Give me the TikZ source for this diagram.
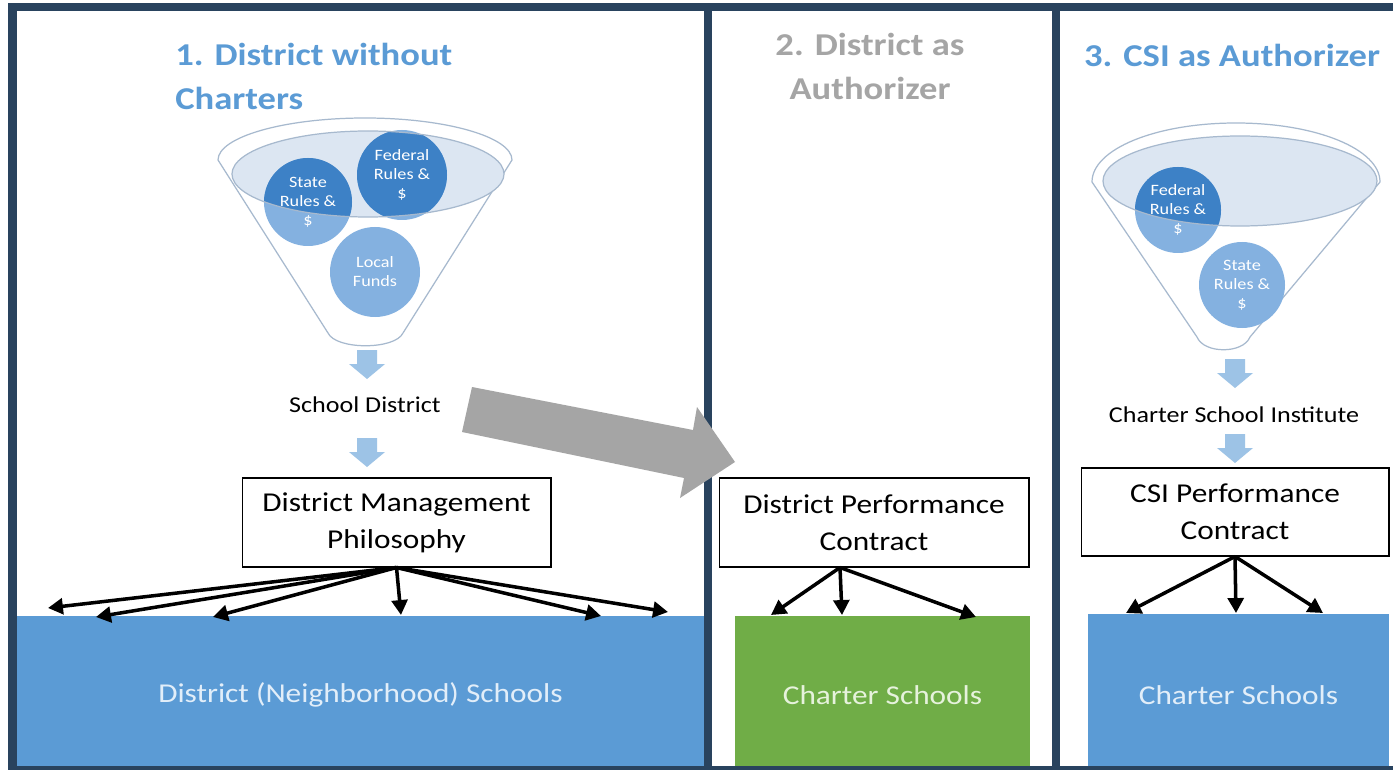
\documentclass[tikz,border=0pt]{standalone}
\usepackage{fontspec}
\setmainfont[FakeStretch=1.15]{Carlito}
\usepackage{tikz}
\usetikzlibrary{arrows.meta}

\definecolor{framenavy}{HTML}{29435E}
\definecolor{headblue}{HTML}{5B9BD5}
\definecolor{headgray}{HTML}{A5A5A5}
\definecolor{schoolblue}{HTML}{5B9BD5}
\definecolor{schooltext}{HTML}{E2EEF9}
\definecolor{chartergreen}{HTML}{70AD47}
\definecolor{greentext}{HTML}{E6F2DC}
\definecolor{flowblue}{HTML}{9DC3E6}
\definecolor{funnelline}{HTML}{A7B9CE}
\definecolor{funnelfill}{HTML}{DCE6F2}
\definecolor{coinlight}{HTML}{84B1E0}
\definecolor{coindark}{HTML}{3D81C6}
\definecolor{bigarrow}{HTML}{A5A5A5}

\tikzset{
  flowdown/.pic={\fill[flowblue] (-10,-14) -- (10,-14) -- (10,0) -- (18,0) -- (0,15) -- (-18,0) -- (-10,0) -- cycle;},
}

\begin{document}
\begin{tikzpicture}[x=0.02cm,y=-0.02cm,
    heading/.style={font=\bfseries\fontsize{18.1pt}{25pt}\selectfont,inner sep=0pt},
    label/.style={font=\fontsize{12.9pt}{15pt}\selectfont,inner sep=0pt},
    coin/.style={font=\fontsize{9pt}{10.8pt}\selectfont,text=white,align=center,inner sep=0pt},
    contract/.style={draw=black,line width=0.6pt,fill=white,align=center,font=\fontsize{15.5pt}{21pt}\selectfont},
    schools/.style={font=\fontsize{15.5pt}{18pt}\selectfont,inner sep=0pt},
    funnel/.style={draw=funnelline,line width=0.7pt},
    fan/.style={line width=2pt,-{Triangle[length=8.5pt,width=9pt]}},
  ]
  \fill[white] (0,0) rectangle (1393,770);
  \useasboundingbox (0,0) rectangle (1393,770);

  % school blocks
  \node[schools,fill=schoolblue,text=schooltext,minimum width=13.74cm,minimum height=3.16cm] (nbhd) at (360.5,695) {District (Neighborhood) Schools};
  \node[schools,fill=chartergreen,text=greentext,minimum width=5.9cm,minimum height=3.16cm] (charter2) at (882.5,695) {Charter Schools};
  \node[schools,fill=schoolblue,text=schooltext,minimum width=6.02cm,minimum height=3.24cm] (charter3) at (1238.5,695) {Charter Schools};

  % frame
  \fill[framenavy] (8,3) rectangle (1393,11);
  \fill[framenavy] (8,3) rectangle (17,770);
  \fill[framenavy] (704,3) rectangle (712,770);
  \fill[framenavy] (1052,3) rectangle (1060,770);
  \fill[framenavy] (8,766) rectangle (1393,770);

  % titles
  \node[heading,text=headblue,align=left,anchor=north west] (title1) at (175,43) {1. District without\\Charters};
  \node[heading,text=headgray,align=center,anchor=north] (title2) at (870,33) {2. District as\\Authorizer};
  \node[heading,text=headblue,anchor=north] (title3) at (1232,44) {3. CSI as Authorizer};

  % funnel 1
  \draw[funnel,fill=white] (218,160) .. controls (218,137) and (284,118) .. (365,118)
    .. controls (446,118) and (512,137) .. (512,160) -- (403,333)
    .. controls (395,350) and (336,350) .. (328,333) -- cycle;
  \fill[funnelfill] (368,174) ellipse [x radius=136, y radius=43];
  \coordinate (cStateA) at (308,202);
  \coordinate (cFedA) at (402,175);
  \coordinate (cLocalA) at (375,272);
  \fill[coinlight] (cStateA) circle [radius=44];
  \fill[coinlight] (cFedA) circle [radius=45];
  \fill[coinlight] (cLocalA) circle [radius=45];
  \begin{scope}
    \clip (368,174) ellipse [x radius=136, y radius=43];
    \fill[coindark] (cStateA) circle [radius=44];
    \fill[coindark] (cFedA) circle [radius=45];
  \end{scope}
  \draw[funnel] (368,174) ellipse [x radius=136, y radius=43];
  \node[coin] (stateA) at (cStateA) {State\\Rules \&\\\$};
  \node[coin] (fedA) at (cFedA) {Federal\\Rules \&\\\$};
  \node[coin] (localA) at (cLocalA) {Local\\Funds};

  % funnel 3
  \draw[funnel,fill=white] (1092,182) .. controls (1092,149) and (1156,123) .. (1236,123)
    .. controls (1316,123) and (1380,149) .. (1380,182) -- (1250,337)
    .. controls (1243,354) and (1204,354) .. (1197,337) -- cycle;
  \fill[funnelfill] (1240,181) ellipse [x radius=137, y radius=45];
  \coordinate (cFedC) at (1178,210);
  \coordinate (cStateC) at (1242,285);
  \fill[coinlight] (cFedC) circle [radius=43];
  \fill[coinlight] (cStateC) circle [radius=43];
  \begin{scope}
    \clip (1240,181) ellipse [x radius=137, y radius=45];
    \fill[coindark] (cFedC) circle [radius=43];
  \end{scope}
  \draw[funnel] (1240,181) ellipse [x radius=137, y radius=45];
  \node[coin] (fedC) at (cFedC) {Federal\\Rules \&\\\$};
  \node[coin] (stateC) at (cStateC) {State\\Rules \&\\\$};

  % flow arrows and labels
  \pic at (367,364) {flowdown};
  \node[label] (schooldist) at (365,405) {School District};
  \pic at (367,452) {flowdown};
  \pic at (1235,373) {flowdown};
  \node[label] (csi) at (1234,415) {Charter School Institute};
  \pic at (1235,448) {flowdown};

  % contract boxes
  \node[contract,minimum width=6.18cm,minimum height=1.78cm] (mgmt) at (396.5,522.5) {District Management\\Philosophy};
  \node[contract,minimum width=6.2cm,minimum height=1.78cm] (perf2) at (874,522.5) {District Performance\\Contract};
  \node[contract,minimum width=6.16cm,minimum height=1.76cm] (perf3) at (1235,512) {CSI Performance\\Contract};

  % fan out to schools
  \foreach \tx/\ty [count=\i] in {48/608,96/617,213/617,401/615,601/616,668/612}
    \coordinate (nb\i) at (\tx,\ty);
  \foreach \i in {1,...,6}
    \draw[fan] (mgmt.south) -- (nb\i);

  \coordinate (src2) at (840,567.5);
  \foreach \tx/\ty [count=\i] in {771/615,842/615,976/617}
    \coordinate (ch\i) at (\tx,\ty);
  \foreach \i in {1,2,3}
    \draw[fan] (src2) -- (ch\i);

  \foreach \tx/\ty [count=\i] in {1126/613,1236/613,1323/613}
    \coordinate (cs\i) at (\tx,\ty);
  \foreach \i in {1,2,3}
    \draw[fan] (perf3.south) -- (cs\i);

  % big gray arrow
  \fill[bigarrow] (472,387) -- (693,430) -- (697,407) -- (735,462) -- (680,498)
    -- (684,478) -- (462,432) -- cycle;
\end{tikzpicture}
\end{document}
